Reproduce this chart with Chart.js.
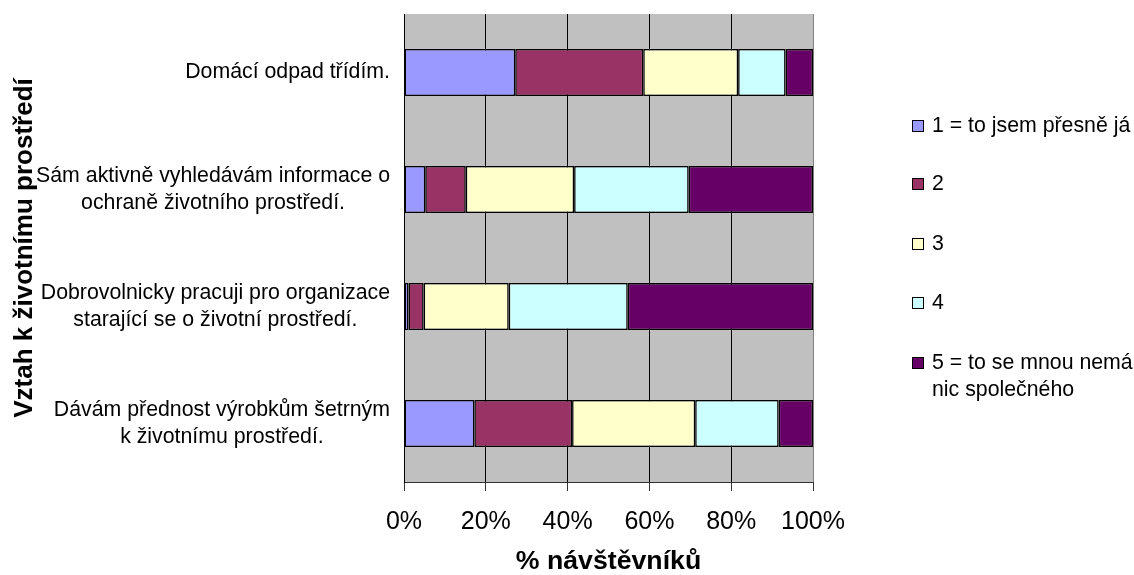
<!DOCTYPE html>
<html>
<head>
<meta charset="utf-8">
<script src="https://cdn.jsdelivr.net/npm/chart.js@4/dist/chart.umd.min.js"></script>
<style>
  html, body { margin: 0; padding: 0; background: #fff; }
  #wrap { position: relative; width: 1134px; height: 575px; }
  #c { position: absolute; left: 0; top: 0; }
  #legend { position: absolute; left: 912px; top: 0; font-family: 'Liberation Sans', Arial, sans-serif; font-size: 21.3px; color: #000; }
  .item { position: absolute; left: 0; white-space: nowrap; line-height: 27px; }
  .sw { position: absolute; left: 0; top: 8px; width: 10px; height: 10px; border: 1px solid #000; }
  .tx { position: absolute; left: 20px; top: 0; }
</style>
</head>
<body>
<div id="wrap">
  <canvas id="c" width="1134" height="575"></canvas>
  <div id="legend"></div>
</div>
<script>
// ---- data ----
const categories = [
  ["Domácí odpad třídím."],
  ["Sám aktivně vyhledávám informace o", "ochraně životního prostředí."],
  ["Dobrovolnicky pracuji pro organizace", "starající se o životní prostředí."],
  ["Dávám přednost výrobkům šetrným", "k životnímu prostředí."]
];
const seriesNames = ["1 = to jsem přesně já", "2", "3", "4", "5 = to se mnou nemá\nnic společného"];
const s1 = [27.2, 5.2, 1.1, 17.2];
const s2 = [31.3, 9.9, 3.7, 23.9];
const s3 = [23.2, 26.5, 20.8, 30.1];
const s4 = [11.6, 28.0, 29.1, 20.4];
const s5 = [6.7, 30.4, 45.3, 8.4];
const xTicks = [0, 20, 40, 60, 80, 100];
const xTitle = "% návštěvníků";
const yTitle = "Vztah k životnímu prostředí";
const colors = ["#9999FF", "#993366", "#FFFFCC", "#CCFFFF", "#660066"];

const FONT = "'Liberation Sans', Arial, sans-serif";
const seriesData = [s1, s2, s3, s4, s5];

const plotBg = {
  id: 'plotBg',
  beforeDraw(chart) {
    const a = chart.chartArea, ctx = chart.ctx;
    ctx.save();
    ctx.fillStyle = '#C0C0C0';
    ctx.fillRect(a.left, a.top, a.right - a.left, a.bottom - a.top);
    ctx.restore();
  }
};

const catLabels = {
  id: 'catLabels',
  afterDraw(chart) {
    const ys = chart.scales.y, ctx = chart.ctx;
    ctx.save();
    ctx.font = "21.3px " + FONT;
    ctx.fillStyle = '#000';
    ctx.textAlign = 'center';
    ctx.textBaseline = 'middle';
    const right = chart.chartArea.left - 14;
    const lh = 27;
    categories.forEach((lines, i) => {
      const y = ys.getPixelForValue(i);
      const w = Math.max(...lines.map(l => ctx.measureText(l).width));
      const cx = right - w / 2;
      lines.forEach((l, j) => {
        ctx.fillText(l, cx, y + (j - (lines.length - 1) / 2) * lh);
      });
    });
    ctx.restore();
  }
};

new Chart(document.getElementById('c'), {
  type: 'bar',
  data: {
    labels: categories,
    datasets: seriesData.map((d, i) => ({
      label: seriesNames[i],
      data: d,
      backgroundColor: colors[i],
      borderColor: '#000',
      borderWidth: 1.5,
      borderSkipped: false,
      categoryPercentage: 1,
      barPercentage: 0.4
    }))
  },
  options: {
    indexAxis: 'y',
    responsive: false,
    animation: false,
    layout: { padding: { top: 14, right: 321, left: 0, bottom: 0 } },
    plugins: { legend: { display: false }, tooltip: { enabled: false } },
    scales: {
      x: {
        stacked: true,
        min: 0, max: 100,
        afterBuildTicks(scale) { scale.ticks = xTicks.map(v => ({ value: v })); },
        afterFit(scale) { scale.height = 93; },
        ticks: {
          callback: v => v + '%',
          color: '#000',
          font: { family: FONT, size: 25 },
          padding: 16,
          maxRotation: 0
        },
        grid: {
          color: ctx => ctx.index === xTicks.length - 1 ? '#808080' : '#000',
          tickColor: '#333',
          tickLength: 9,
          lineWidth: 1
        },
        border: { display: true, color: '#333', width: 1 },
        title: {
          display: true, text: xTitle, color: '#000',
          font: { family: FONT, size: 26.7, weight: 'bold', lineHeight: 1 },
          padding: { top: 0, bottom: 0 }
        }
      },
      y: {
        stacked: true,
        afterFit(scale) { scale.width = 404; },
        ticks: { display: false },
        grid: { display: false },
        border: { display: true, color: '#000', width: 1 },
        title: {
          display: true, text: yTitle, color: '#000',
          font: { family: FONT, size: 26, weight: 'bold', lineHeight: 1.2 },
          padding: { top: 9, bottom: 0 }
        }
      }
    }
  },
  plugins: [plotBg, catLabels]
});

// HTML legend built from series arrays
const legendTops = [112, 170, 230, 289, 349];
const leg = document.getElementById('legend');
seriesNames.forEach((name, i) => {
  const it = document.createElement('div');
  it.className = 'item';
  it.style.top = legendTops[i] + 'px';
  const sw = document.createElement('span');
  sw.className = 'sw';
  sw.style.background = colors[i];
  const tx = document.createElement('span');
  tx.className = 'tx';
  tx.innerHTML = name.split('\n').map(s => s.replace(/&/g, '&amp;').replace(/</g, '&lt;')).join('<br>');
  it.appendChild(sw); it.appendChild(tx);
  leg.appendChild(it);
});
</script>
</body>
</html>
